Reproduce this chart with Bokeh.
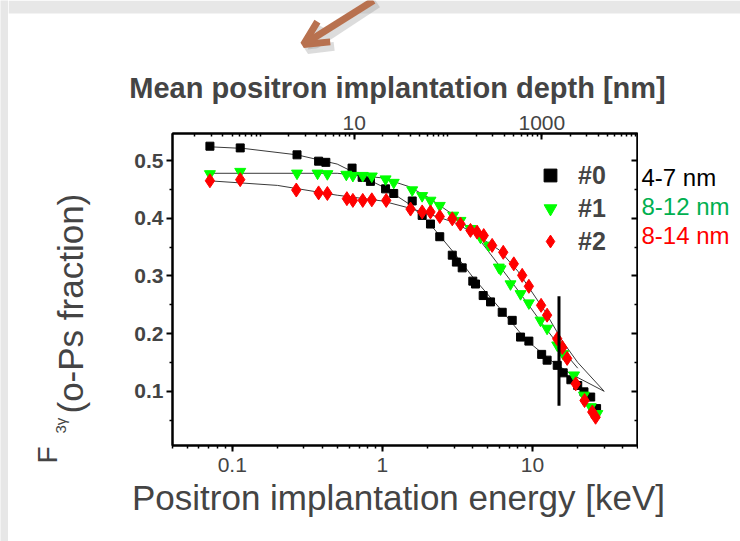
import math
from bokeh.plotting import figure
from bokeh.layouts import row, column
from bokeh.models import (Range1d, LogScale, LogAxis, LinearAxis, FixedTicker,
                          Legend, LegendItem, Label, Arrow, OpenHead, BoxAnnotation,
                          CustomJSTickFormatter)
from bokeh.embed import file_html
from bokeh.resources import INLINE

# ---------------- data ----------------
e0 = [0.071, 0.113, 0.27, 0.376, 0.42, 0.628, 0.733, 0.832, 1.05, 1.19, 1.58, 1.84,
      2.09, 2.41, 2.92, 3.11, 3.40, 4.0, 4.17, 4.69, 5.25, 6.28, 7.32, 8.32, 9.45,
      11.5, 12.5, 14.6, 16.0, 18.0, 20.0, 22.0, 24.4, 26.7]
f0 = [0.525, 0.522, 0.510, 0.499, 0.497, 0.487, 0.471, 0.464, 0.451, 0.443, 0.430, 0.405,
      0.390, 0.368, 0.336, 0.324, 0.314, 0.291, 0.286, 0.266, 0.255, 0.237, 0.223, 0.194, 0.187,
      0.164, 0.154, 0.145, 0.132, 0.120, 0.110, 0.099, 0.090, 0.070]

e1 = [0.071, 0.113, 0.27, 0.37, 0.43, 0.575, 0.636, 0.74, 0.85, 1.05, 1.19, 1.58, 1.84,
      2.09, 2.41, 2.96, 3.31, 3.86, 4.50, 5.11, 5.96, 6.12, 7.13, 8.32, 9.45, 11.3, 12.5,
      14.6, 16.0, 18.9, 22.0, 24.4, 27.0]
f1 = [0.477, 0.481, 0.478, 0.478, 0.477, 0.476, 0.474, 0.474, 0.473, 0.468, 0.462, 0.449, 0.439,
      0.431, 0.422, 0.405, 0.396, 0.382, 0.367, 0.353, 0.315, 0.312, 0.286, 0.269, 0.253, 0.223, 0.209,
      0.180, 0.165, 0.128, 0.093, 0.073, 0.061]

e2 = [0.071, 0.113, 0.267, 0.376, 0.43, 0.58, 0.636, 0.74, 0.85, 1.06, 1.54, 1.84, 2.09,
      2.41, 2.92, 3.31, 3.86, 4.27, 4.73, 5.38, 6.38, 7.50, 8.53, 9.45, 11.4, 12.5, 14.6,
      15.8, 17.0, 19.4, 22.2, 25.0, 26.3]
f2 = [0.465, 0.467, 0.449, 0.444, 0.443, 0.434, 0.431, 0.431, 0.432, 0.431, 0.416, 0.411, 0.411,
      0.403, 0.399, 0.390, 0.379, 0.376, 0.370, 0.353, 0.341, 0.321, 0.301, 0.282, 0.249, 0.232, 0.191,
      0.176, 0.157, 0.113, 0.084, 0.064, 0.055]

# fitted curves
fit0_e = [0.07, 0.12, 0.27, 0.5, 1.0, 1.5, 2.0, 3.0, 4.0, 6.0, 9.0, 13.0, 18.0, 30.0]
fit0_f = [0.524, 0.521, 0.510, 0.494, 0.455, 0.425, 0.395, 0.340, 0.298, 0.245, 0.190, 0.155, 0.130, 0.100]
fit1_e = [0.07, 0.5, 1.0, 1.5, 2.0, 3.0, 4.0, 6.0, 8.0, 12.0, 16.0, 20.0]
fit1_f = [0.478, 0.478, 0.470, 0.455, 0.437, 0.405, 0.378, 0.318, 0.275, 0.212, 0.170, 0.140]
fit2_e = [0.07, 0.2, 0.5, 1.0, 1.5, 2.0, 3.0, 4.0, 6.0, 8.0, 12.0, 16.0, 20.0, 30.0]
fit2_f = [0.465, 0.457, 0.440, 0.430, 0.418, 0.408, 0.393, 0.375, 0.345, 0.308, 0.240, 0.185, 0.150, 0.100]

vline_e = [15.0, 15.0]
vline_f = [0.075, 0.265]

series_names = ["#0", "#1", "#2"]
size_labels = ["4-7 nm", "8-12 nm", "8-14 nm"]
size_colors = ["black", "#00B050", "#FF0000"]

x_ticks = [0.1, 1, 10]
y_ticks = [0.1, 0.2, 0.3, 0.4, 0.5]
depth_ticks = [10, 1000]

x_title = "Positron implantation energy [keV]"
top_title = "Mean positron implantation depth [nm]"

# depth conversion z = A * E^n  (nm, keV)
A_DEPTH = 20.0
N_DEPTH = 1.6

# ---------------- layout geometry (page pixels) ----------------
PAGE_W, PAGE_H = 740, 541
STRIP_W = 8            # grey slide strip on the left
TOP_H = 104            # band: arrow + top title
BOT_H = 60             # band: bottom title
MID_H = PAGE_H - TOP_H - BOT_H
MAIN_W = 630           # main figure: page x 8..638
NOTES_W = PAGE_W - STRIP_W - MAIN_W
FRAME_L, FRAME_R, FRAME_T, FRAME_B = 172, 637, 133, 445
GREY = "#E7E7E7"
FONT = "Liberation Sans"
XR = (0.04, 50.0)
YR = (0.006, 0.547)


def blank_fig(w, h, xr, yr, bg="white", **kw):
    opts = dict(min_border=0)
    opts.update(kw)
    f = figure(width=w, height=h, x_range=Range1d(*xr), y_range=Range1d(*yr),
               x_axis_type=None, y_axis_type=None, output_backend="svg",
               toolbar_location=None, **opts)
    f.outline_line_color = None
    f.background_fill_color = bg
    f.border_fill_color = bg
    f.grid.visible = False
    return f


# ---------------- left grey strip ----------------
strip = blank_fig(STRIP_W, PAGE_H, (0, 1), (0, 1), bg=GREY)

# ---------------- top band: arrow + title (page coordinates) ----------------
topf = blank_fig(PAGE_W - STRIP_W, TOP_H, (STRIP_W, PAGE_W), (TOP_H, 0))
topf.add_layout(BoxAnnotation(left=STRIP_W, right=PAGE_W, top=0, bottom=13,
                              fill_color=GREY, fill_alpha=1, line_color=None))
topf.add_layout(Arrow(x_start=377, y_start=3, x_end=307, y_end=49,
                      line_color="#8a8a8a", line_alpha=0.3, line_width=9,
                      end=OpenHead(size=24, line_color="#8a8a8a", line_alpha=0.3, line_width=9)))
topf.add_layout(Arrow(x_start=373, y_start=0, x_end=303, y_end=44,
                      line_color="#B8714F", line_width=7,
                      end=OpenHead(size=24, line_color="#B8714F", line_width=7)))
topf.add_layout(Label(x=397, y=87, text=top_title, text_font=FONT, text_font_size="29px",
                      text_font_style="bold", text_align="center", text_baseline="alphabetic"))

# ---------------- bottom band: x title (page coordinates) ----------------
botf = blank_fig(PAGE_W - STRIP_W, BOT_H, (STRIP_W, PAGE_W), (PAGE_H, PAGE_H - BOT_H))
botf.add_layout(Label(x=398, y=497, text=x_title, text_font=FONT, text_font_size="35px",
                      text_align="center", text_baseline="alphabetic"))

# ---------------- main chart ----------------
p = figure(width=MAIN_W, height=MID_H, x_axis_type="log",
           x_range=Range1d(*XR), y_range=Range1d(*YR),
           output_backend="svg", toolbar_location=None,
           min_border_left=FRAME_L - STRIP_W, min_border_right=STRIP_W + MAIN_W - FRAME_R,
           min_border_top=FRAME_T - TOP_H, min_border_bottom=TOP_H + MID_H - FRAME_B)
p.background_fill_color = "white"
p.border_fill_color = "white"
p.outline_line_color = "black"
p.outline_line_width = 2
p.xgrid.visible = False
p.ygrid.visible = False

# bottom axis
xa = p.xaxis[0]
xa.ticker = FixedTicker(ticks=x_ticks,
                        minor_ticks=[m * 10 ** k for k in range(-2, 2) for m in range(1, 10)])
xa.major_label_text_font = FONT
xa.major_label_text_font_size = "21px"
xa.major_label_standoff = 6
xa.axis_line_width = 2
xa.major_tick_line_width = 2
xa.minor_tick_line_width = 1.5
xa.major_tick_out = 6
xa.major_tick_in = 0
xa.minor_tick_out = 3
xa.minor_tick_in = 0
xa.formatter = CustomJSTickFormatter(code="return tick >= 1 ? tick.toFixed(0) : tick.toString();")

# left axis
ya = p.yaxis[0]
ya.ticker = FixedTicker(ticks=y_ticks, minor_ticks=[0.05, 0.15, 0.25, 0.35, 0.45])
ya.major_label_text_font = FONT
ya.major_label_text_font_size = "21px"
ya.major_label_text_font_style = "bold"
ya.major_label_standoff = 3
ya.axis_line_width = 2
ya.major_tick_line_width = 2
ya.minor_tick_line_width = 1.5
ya.major_tick_out = 6
ya.major_tick_in = 0
ya.minor_tick_out = 3
ya.minor_tick_in = 0

# top axis: mean implantation depth
p.extra_x_ranges = {"depth": Range1d(A_DEPTH * XR[0] ** N_DEPTH, A_DEPTH * XR[1] ** N_DEPTH)}
p.extra_x_scales = {"depth": LogScale()}
top = LogAxis(x_range_name="depth",
              ticker=FixedTicker(ticks=depth_ticks,
                                 minor_ticks=[m * 10 ** k for k in range(-1, 5) for m in range(1, 10)]))
top.major_label_text_font = FONT
top.major_label_text_font_size = "21px"
top.major_label_standoff = 4
top.axis_line_width = 2
top.major_tick_line_width = 2
top.minor_tick_line_width = 1.5
top.major_tick_in = 6
top.major_tick_out = 0
top.minor_tick_in = 3
top.minor_tick_out = 0
top.formatter = CustomJSTickFormatter(code="return tick.toFixed(0);")
p.add_layout(top, "above")

# right axis (inward ticks only)
right = LinearAxis(ticker=FixedTicker(ticks=y_ticks, minor_ticks=[0.05, 0.15, 0.25, 0.35, 0.45]))
right.formatter = CustomJSTickFormatter(code="return '';")
right.major_label_text_font_size = "0px"
right.axis_line_width = 2
right.major_tick_line_width = 2
right.minor_tick_line_width = 1.5
right.major_tick_in = 6
right.major_tick_out = 0
right.minor_tick_in = 3
right.minor_tick_out = 0
right.major_label_standoff = 0
p.add_layout(right, "right")

# fitted lines
LINE_C = "#3a3a3a"
p.line(fit0_e, fit0_f, line_color=LINE_C, line_width=1)
p.line(fit1_e, fit1_f, line_color=LINE_C, line_width=1)
p.line(fit2_e, fit2_f, line_color=LINE_C, line_width=1)

# data
r0 = p.scatter(e0, f0, marker="square", size=8, fill_color="black", line_color="black")
r1 = p.scatter(e1, f1, marker="inverted_triangle", size=11, fill_color="#00FF00", line_color="#00FF00")
r2 = p.scatter(e2, f2, marker="diamond", size=14, fill_color="#FF0000", line_color="#FF0000")

# vertical marker line
p.line(vline_e, vline_f, line_color="black", line_width=3)

legend = Legend(items=[LegendItem(label=series_names[0], renderers=[r0]),
                       LegendItem(label=series_names[1], renderers=[r1]),
                       LegendItem(label=series_names[2], renderers=[r2])],
                location=(362, 188))
legend.label_text_font = FONT
legend.label_text_font_size = "25px"
legend.label_text_font_style = "bold"
legend.label_height = 30
legend.glyph_height = 32
legend.glyph_width = 32
legend.spacing = 1
legend.padding = 0
legend.margin = 0
legend.label_standoff = 12
legend.border_line_color = None
legend.background_fill_alpha = 0
p.add_layout(legend, "center")

# y axis label: F_3gamma (o-Ps fraction) -- left panel, canvas pixels of the main figure
def lx(page_x):
    return page_x - STRIP_W

def ly(page_y):
    return page_y - TOP_H

p.add_layout(Label(x=lx(47), y=ly(463), x_units="canvas", y_units="canvas", text="F",
                   angle=math.pi / 2, text_font=FONT, text_font_size="28px",
                   text_baseline="alphabetic"), "left")
p.add_layout(Label(x=lx(60), y=ly(433), x_units="canvas", y_units="canvas", text="3γ",
                   angle=math.pi / 2, text_font=FONT, text_font_size="15px",
                   text_baseline="alphabetic"), "left")
p.add_layout(Label(x=lx(70), y=ly(413), x_units="canvas", y_units="canvas",
                   text="(o-Ps fraction)", angle=math.pi / 2, text_font=FONT,
                   text_font_size="35px", text_baseline="alphabetic"), "left")

# ---------------- pore size notes (page coordinates; frame aligned with main) ----------------
notes = blank_fig(NOTES_W, MID_H, (STRIP_W + MAIN_W, PAGE_W), (FRAME_B, FRAME_T),
                  min_border_top=FRAME_T - TOP_H, min_border_bottom=TOP_H + MID_H - FRAME_B)
for i, (t, c) in enumerate(zip(size_labels, size_colors)):
    notes.add_layout(Label(x=641, y=177 + i * 29, text=t, text_color=c,
                           text_font=FONT, text_font_size="24px",
                           text_baseline="alphabetic", text_align="left"))

layout = row(strip, column(topf, row(p, notes), botf))
open("out.html", "w").write(file_html(layout, INLINE))
